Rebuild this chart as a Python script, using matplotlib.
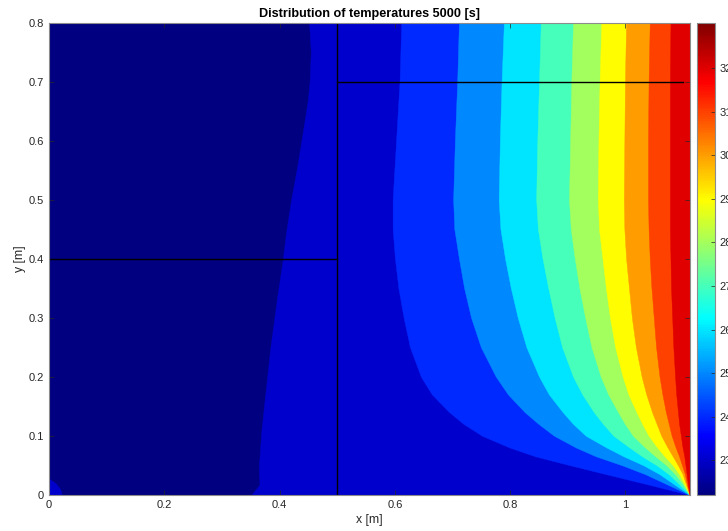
import numpy as np
import matplotlib
matplotlib.use("Agg")
import matplotlib.pyplot as plt
from matplotlib.colors import LinearSegmentedColormap, Normalize
from matplotlib.cm import ScalarMappable

# temperature range of the field (colour limits) and contour levels
t_min = 22.19
t_max = 33.05
levels = [23, 24, 25, 26, 27, 28, 29, 30, 31, 32]

# domain
x_max = 1.112
y_max = 0.8

# level 23 contour (left part of the wall)
y23 = [0.8, 0.75, 0.7, 0.669, 0.613, 0.556, 0.5, 0.4435, 0.4, 0.33, 0.25, 0.161, 0.105, 0.048, 0.017, 0.0]
x23 = [0.452, 0.455, 0.453, 0.450, 0.441, 0.4315, 0.421, 0.412, 0.4066, 0.396, 0.385, 0.375, 0.369, 0.365, 0.366, 0.352]
# small warm spot in the bottom left corner (level 23)
y23_corner = [0.0, 0.028, 0.02, 0.01, 0.0]
x23_corner = [0.0, 0.0, 0.012, 0.02, 0.023]

# levels 24..32, x position of each contour at these heights
y_right = [0.8, 0.7, 0.6, 0.5, 0.45, 0.4, 0.35, 0.3, 0.25, 0.2, 0.17, 0.14, 0.12, 0.1,
           0.08, 0.065, 0.05, 0.035, 0.02, 0.0]
x24 = [0.612, 0.609, 0.603, 0.597, 0.597, 0.601, 0.607, 0.616, 0.627, 0.646, 0.665, 0.695, 0.720, 0.752,
       0.800, 0.845, 0.905, 0.967, 1.030, 1.112]
x25 = [0.712, 0.709, 0.705, 0.702, 0.704, 0.712, 0.721, 0.733, 0.750, 0.776, 0.797, 0.826, 0.850, 0.877,
       0.915, 0.950, 0.995, 1.035, 1.068, 1.112]
x26 = [0.790, 0.786, 0.783, 0.781, 0.784, 0.792, 0.802, 0.814, 0.829, 0.851, 0.868, 0.892, 0.910, 0.932,
       0.968, 0.998, 1.032, 1.060, 1.082, 1.112]
x27 = [0.854, 0.851, 0.848, 0.846, 0.849, 0.857, 0.867, 0.878, 0.891, 0.910, 0.926, 0.946, 0.962, 0.980,
       1.008, 1.030, 1.055, 1.076, 1.092, 1.112]
x28 = [0.910, 0.907, 0.905, 0.903, 0.906, 0.913, 0.921, 0.931, 0.942, 0.958, 0.971, 0.988, 1.000, 1.014,
       1.035, 1.053, 1.072, 1.087, 1.099, 1.112]
x29 = [0.959, 0.956, 0.954, 0.953, 0.955, 0.961, 0.967, 0.974, 0.983, 0.996, 1.006, 1.020, 1.030, 1.041,
       1.056, 1.069, 1.083, 1.094, 1.102, 1.112]
x30 = [1.002, 1.000, 0.999, 0.998, 0.999, 1.002, 1.007, 1.012, 1.019, 1.029, 1.037, 1.047, 1.055, 1.063,
       1.074, 1.083, 1.092, 1.100, 1.105, 1.112]
x31 = [1.043, 1.041, 1.040, 1.040, 1.041, 1.043, 1.046, 1.050, 1.054, 1.060, 1.065, 1.071, 1.076, 1.081,
       1.088, 1.094, 1.099, 1.104, 1.107, 1.112]
x32 = [1.079, 1.078, 1.078, 1.078, 1.078, 1.079, 1.080, 1.082, 1.084, 1.087, 1.089, 1.092, 1.094, 1.097,
       1.100, 1.103, 1.105, 1.107, 1.109, 1.112]
right_curves = [x24, x25, x26, x27, x28, x29, x30, x31, x32]

# wall boundaries drawn as black lines
wall_x = [[0.5, 0.5], [0.0, 0.5], [0.5, 1.1]]
wall_y = [[0.0, 0.8], [0.4, 0.4], [0.7, 0.7]]

xticks = [0, 0.2, 0.4, 0.6, 0.8, 1]
xticklabels = ["0", "0.2", "0.4", "0.6", "0.8", "1"]
yticks = [0, 0.1, 0.2, 0.3, 0.4, 0.5, 0.6, 0.7, 0.8]
yticklabels = ["0", "0.1", "0.2", "0.3", "0.4", "0.5", "0.6", "0.7", "0.8"]

# MATLAB style jet
jet = LinearSegmentedColormap.from_list(
    "mjet",
    [(0, (0, 0, 0.5)), (1/8, (0, 0, 1)), (3/8, (0, 1, 1)),
     (5/8, (1, 1, 0)), (7/8, (1, 0, 0)), (1, (0.5, 0, 0))], N=256)
norm = Normalize(t_min, t_max)

plt.rcParams['font.family'] = ['Liberation Sans', 'DejaVu Sans']
gray = '#262626'

fig = plt.figure(figsize=(7.28, 5.31), dpi=100)
ax = fig.add_axes([0.0673, 0.0672, 0.8805, 0.8901])
cax = fig.add_axes([0.9578, 0.0672, 0.0243, 0.8901])

# base colour = minimum temperature
ax.fill([0, x_max, x_max, 0], [0, 0, y_max, y_max], color=jet(norm(t_min)), lw=0)

# level 23 region (right of the 23 contour), fill colour = lower level
c23 = jet(norm(levels[0]))
ax.fill(x23 + [x_max, x_max], y23 + [0.0, y_max], color=c23, lw=0.3, ec=c23)
ax.fill(x23_corner, y23_corner, color=c23, lw=0.3, ec=c23)

for lev, xs in zip(levels[1:], right_curves):
    c = jet(norm(lev))
    ax.fill(xs + [x_max], y_right + [y_max], color=c, lw=0.3, ec=c)

for xs, ys in zip(wall_x, wall_y):
    ax.plot(xs, ys, color='black', lw=1.0)

ax.set_xlim(0, x_max)
ax.set_ylim(0, y_max)
ax.set_xticks(xticks)
ax.set_xticklabels(xticklabels)
ax.set_yticks(yticks)
ax.set_yticklabels(yticklabels)
ax.tick_params(direction='in', length=3.5, width=0.5, colors=gray, labelsize=8,
               top=True, right=True)
for s in ax.spines.values():
    s.set_color('#8c8c8c')
    s.set_linewidth(0.8)
ax.set_xlabel('x [m]', fontsize=8.8, color=gray, labelpad=3)
ax.set_ylabel('y [m]', fontsize=8.8, color=gray, labelpad=2)
ax.set_title('Distribution of temperatures 5000 [s]', fontsize=9.1,
             fontweight='bold', pad=4)

cb = fig.colorbar(ScalarMappable(norm=norm, cmap=jet), cax=cax, ticks=levels)
cb.outline.set_edgecolor('#8c8c8c')
cb.outline.set_linewidth(0.8)
cax.tick_params(direction='in', length=3, width=0.5, colors=gray, labelsize=8)

fig.savefig('out.png', dpi=100)
